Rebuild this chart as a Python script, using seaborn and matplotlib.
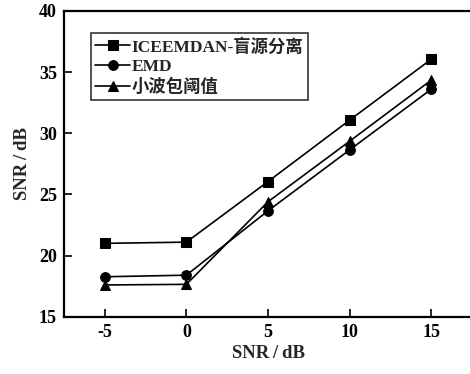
import matplotlib
matplotlib.use("Agg")
import matplotlib.pyplot as plt
import seaborn as sns
import pandas as pd

snr_in = [-5, 0, 5, 10, 15]
iceemdan = [21.0, 21.1, 26.05, 31.07, 36.05]
emd = [18.27, 18.4, 23.66, 28.64, 33.6]
wavelet = [17.6, 17.65, 24.4, 29.35, 34.34]
series_names = ["ICEEMDAN-盲源分离", "EMD", "小波包阈值"]
markers = ["s", "o", "^"]
axis_label = "SNR\u2009/\u2009dB"

sns.set_theme(style="ticks")
plt.rcParams['font.family'] = ['Liberation Serif', 'Noto Sans CJK SC']
plt.rcParams['font.weight'] = 'bold'

df = pd.DataFrame({
    "x": snr_in * 3,
    "y": iceemdan + emd + wavelet,
    "method": sum([[n] * len(snr_in) for n in series_names], []),
})

fig = plt.figure(figsize=(4.7, 3.74), dpi=100)
ax = fig.add_axes([0.136, 0.153, 0.872, 0.818])
sns.lineplot(data=df, x="x", y="y", hue="method", style="method",
             palette=["black"] * 3, markers=markers, dashes=False,
             markersize=7, linewidth=1.2, markeredgecolor="black", ax=ax)

ax.set_xlim(-7.5, 17.6)
ax.set_ylim(15, 40)
ax.set_xticks(snr_in)
ax.set_xticklabels([str(v) for v in snr_in])
ax.set_yticks([15, 20, 25, 30, 35, 40])
ax.tick_params(direction="in", length=6, width=1.2, labelsize=13, colors="black", pad=5)
for lab in ax.get_xticklabels() + ax.get_yticklabels():
    lab.set_fontweight("bold")
for s in ax.spines.values():
    s.set_linewidth(1.6)
    s.set_color("black")

ax.set_xlabel(axis_label, fontsize=13.5, fontweight="bold", labelpad=3)
ax.set_ylabel(axis_label, fontsize=13.5, fontweight="bold", labelpad=6)

leg = ax.legend(loc="upper left", bbox_to_anchor=(0.066, 0.926), frameon=True,
                fancybox=False, edgecolor="black", fontsize=12.5,
                handlelength=2.0, handletextpad=0.1, borderpad=0.25,
                labelspacing=0.2, borderaxespad=0)
leg.get_frame().set_linewidth(1.2)
for t in leg.get_texts():
    t.set_fontweight("bold")

fig.savefig("out.png", dpi=100)
